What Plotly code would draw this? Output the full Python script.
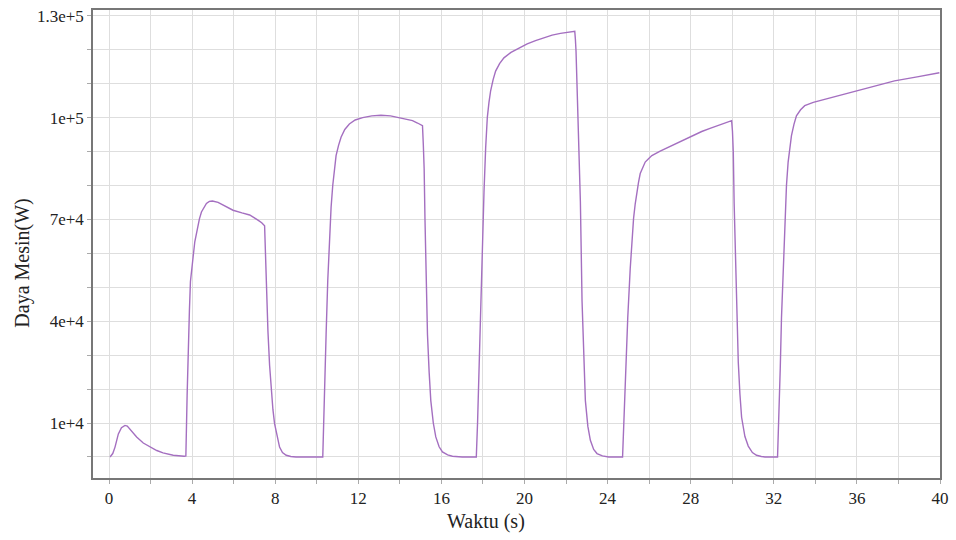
import plotly.graph_objects as go

# Engine power trace over time
waktu = [
    0.05, 0.18, 0.29, 0.45, 0.60, 0.77, 0.88, 1.00, 1.15, 1.33, 1.65, 1.97, 2.30, 2.60, 3.09, 3.62, 3.70,
    3.76, 3.81, 3.87, 3.92, 4.00, 4.02, 4.05, 4.13, 4.24, 4.35, 4.45, 4.57, 4.69, 4.83, 4.98, 5.25, 5.60,
    5.97, 6.40, 6.77, 7.17, 7.35, 7.49,
    7.57, 7.65, 7.73, 7.81, 7.89, 7.97, 8.09, 8.21, 8.35, 8.53, 8.75, 9.00, 10.29,
    10.37, 10.45, 10.53, 10.61, 10.69, 10.77, 10.85, 10.93, 11.05, 11.17, 11.35, 11.57, 11.85, 12.21,
    12.65, 13.09, 13.55, 13.97, 14.30, 14.61, 14.85, 15.09,
    15.13, 15.17, 15.21, 15.25, 15.29, 15.33, 15.41, 15.49, 15.61, 15.73, 15.89, 16.05, 16.30, 16.53,
    17.00, 17.68,
    17.74, 17.81, 17.89, 17.97, 18.05, 18.13, 18.21, 18.29, 18.37, 18.49, 18.61, 18.80, 19.01, 19.35,
    19.73, 20.13, 20.53, 20.93, 21.33, 21.73, 22.13, 22.42,
    22.45, 22.48, 22.55, 22.61, 22.69, 22.77, 22.85, 22.93, 23.05, 23.17, 23.33, 23.49, 23.75, 24.05,
    24.72,
    24.78, 24.85, 24.97, 25.09, 25.17, 25.25, 25.33, 25.41, 25.49, 25.57, 25.69, 25.81, 25.97, 26.13,
    26.53, 26.93, 27.33, 27.73, 28.13, 28.53, 28.93, 29.33, 29.65, 29.97,
    30.01, 30.05, 30.09, 30.14, 30.21, 30.29, 30.37, 30.45, 30.61, 30.77, 30.97, 31.17, 31.40, 31.57,
    32.18,
    32.25, 32.31, 32.37, 32.45, 32.53, 32.61, 32.69, 32.77, 32.85, 32.97, 33.09, 33.29, 33.49, 33.90,
    34.45, 35.30, 36.21, 37.00, 37.81, 38.90, 39.97,
]
daya = [
    0, 1000, 2900, 6800, 8600, 9300, 9100, 8300, 7200, 5900, 4100, 2900, 1900, 1200, 500, 200, 300,
    18000, 32200, 43000, 51700, 57500, 56500, 59000, 63400, 67400, 70100, 72200, 73700, 74700, 75300,
    75400, 75000, 73800,
    72700, 71900, 71300, 69800, 69000, 68100,
    51700, 37100, 27000, 19500, 14000, 9800, 5800, 2900, 1300, 500, 150, 0, 0,
    15000, 36100, 52000, 65400, 73500, 80000, 85000, 88800, 91800, 94200, 96500, 98100, 99300, 100000,
    100500, 100700, 100500, 100000, 99600, 99100, 98400, 97600,
    92000, 84900, 70000, 55600, 45000, 36100, 25000, 16600, 10000, 5900, 3000, 1500, 600, 200,
    0, 0,
    10000, 26400, 46000, 65400, 78000, 91000, 100000, 104500, 107900, 111200, 113700, 115900, 117600,
    119200,
    120500, 121700, 122700, 123600, 124300, 124800, 125200, 125400,
    123000, 119600, 105000, 90300, 75200, 45900, 28000, 16600, 9000, 4900, 2200, 1000, 300, 0,
    0,
    10000, 26400, 41000, 55600, 63500, 70300, 74600, 78100, 81000, 83500, 85400, 86900, 87900, 88800,
    90100, 91300, 92500, 93700, 94800, 95900, 96800, 97600, 98400, 99100,
    96000, 89800, 75000, 62000, 42000, 28000, 18500, 11700, 6000, 3200, 1300, 500, 150, 0,
    0,
    11700, 26000, 41000, 56000, 70300, 80000, 86900, 91300, 94700, 98000, 100500, 102300, 103500,
    104500,
    105400, 106900, 108300, 109600, 110800, 112000, 113200,
]

x_ticks = [0, 4, 8, 12, 16, 20, 24, 28, 32, 36, 40]
x_minor = [0, 2, 4, 6, 8, 10, 12, 14, 16, 18, 20, 22, 24, 26, 28, 30, 32, 34, 36, 38, 40]
y_ticks = [10000, 40000, 70000, 100000, 130000]
y_labels = ["1e+4", "4e+4", "7e+4", "1e+5", "1.3e+5"]
y_minor = [0, 10000, 20000, 30000, 40000, 50000, 60000, 70000, 80000, 90000,
           100000, 110000, 120000, 130000]

FONT = "Liberation Serif"
GRID = "#dedede"
AXIS = "#777777"

fig = go.Figure(
    go.Scatter(
        x=waktu, y=daya, mode="lines",
        line=dict(color="#a46fc0", width=1.4),
        hoverinfo="x+y",
    )
)

fig.update_layout(
    width=956, height=540,
    margin=dict(l=93, r=13, t=7, b=62),
    paper_bgcolor="white", plot_bgcolor="white",
    showlegend=False,
    font=dict(family=FONT, color="#222222", size=17),
    annotations=[
        dict(text="Daya Mesin(W)", xref="paper", yref="paper",
             x=-0.0835, y=0.4586, textangle=-90, showarrow=False,
             xanchor="center", yanchor="middle",
             font=dict(family=FONT, size=20, color="#222222")),
        dict(text="Waktu (s)", xref="paper", yref="paper",
             x=0.4635, y=-0.0934, showarrow=False,
             xanchor="center", yanchor="middle",
             font=dict(family=FONT, size=20, color="#222222")),
    ],
)

fig.update_xaxes(
    range=[-0.77, 40], tickmode="array", tickvals=x_ticks,
    showgrid=True, gridcolor=GRID, gridwidth=1,
    showline=True, linecolor=AXIS, linewidth=1.5, mirror=True,
    ticks="outside", ticklen=4, tickcolor="#aaaaaa", zeroline=False,
    minor=dict(tickmode="array", tickvals=x_minor, showgrid=True, gridcolor=GRID,
               ticks="outside", ticklen=4, tickcolor="#aaaaaa"),
    tickfont=dict(family=FONT, size=17),
)

fig.update_yaxes(
    range=[-6200, 131700], tickmode="array", tickvals=y_ticks, ticktext=y_labels,
    showgrid=True, gridcolor=GRID, gridwidth=1,
    showline=True, linecolor=AXIS, linewidth=1.5, mirror=True,
    ticks="outside", ticklen=4, tickcolor="#aaaaaa", zeroline=False,
    minor=dict(tickmode="array", tickvals=y_minor, showgrid=True, gridcolor=GRID,
               ticks="outside", ticklen=4, tickcolor="#aaaaaa"),
    tickfont=dict(family=FONT, size=17),
)

fig.write_html("out.html")
